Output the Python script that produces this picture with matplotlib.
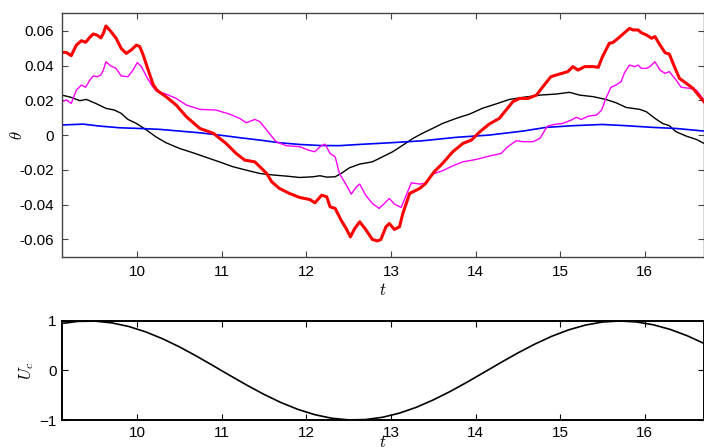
import numpy as np
import matplotlib
matplotlib.use("Agg")
import matplotlib.pyplot as plt

plt.rcParams['font.family'] = ['Liberation Sans', 'DejaVu Sans']
plt.rcParams['mathtext.fontset'] = 'cm'
plt.rcParams['axes.unicode_minus'] = False

# theta(t) for the four runs
t_red = [9.11, 9.16, 9.22, 9.28, 9.34, 9.39, 9.44, 9.48, 9.53, 9.57, 9.60, 9.63, 9.69, 9.75,
         9.81, 9.87, 9.93, 9.99, 10.03, 10.07, 10.13, 10.19, 10.24, 10.34, 10.46, 10.58,
         10.74, 10.90, 11.05, 11.17, 11.27, 11.39, 11.47, 11.53, 11.59, 11.68, 11.80, 11.92,
         12.04, 12.10, 12.18, 12.24, 12.28, 12.34, 12.41, 12.47, 12.52, 12.57, 12.63, 12.70,
         12.78, 12.84, 12.88, 12.94, 12.98, 13.04, 13.10, 13.14, 13.22, 13.34, 13.41, 13.51,
         13.61, 13.73, 13.85, 13.95, 14.05, 14.16, 14.28, 14.36, 14.44, 14.52, 14.62, 14.72,
         14.79, 14.89, 14.99, 15.09, 15.15, 15.21, 15.29, 15.39, 15.45, 15.50, 15.58, 15.62,
         15.66, 15.70, 15.76, 15.82, 15.86, 15.92, 15.96, 16.02, 16.08, 16.12, 16.18, 16.24,
         16.29, 16.35, 16.41, 16.49, 16.57, 16.65, 16.70]
theta_red = [0.0476, 0.0476, 0.0457, 0.0518, 0.0543, 0.0534, 0.0563, 0.0582, 0.0574, 0.0559,
             0.0586, 0.0628, 0.0595, 0.0557, 0.0499, 0.0470, 0.0490, 0.0518, 0.0509, 0.0461,
             0.0374, 0.0288, 0.0255, 0.0221, 0.0173, 0.0106, 0.0038, 0.0010, -0.0048, -0.0106,
             -0.0144, -0.0154, -0.0192, -0.0221, -0.0269, -0.0307, -0.0336, -0.0359, -0.0371,
             -0.0390, -0.0346, -0.0355, -0.0413, -0.0422, -0.0490, -0.0538, -0.0586, -0.0538,
             -0.0499, -0.0543, -0.0601, -0.0609, -0.0601, -0.0528, -0.0509, -0.0543, -0.0528,
             -0.0451, -0.0336, -0.0307, -0.0278, -0.0211, -0.0163, -0.0096, -0.0048, -0.0029,
             0.0019, 0.0063, 0.0096, 0.0144, 0.0192, 0.0211, 0.0211, 0.0230, 0.0275, 0.0336,
             0.0351, 0.0365, 0.0394, 0.0374, 0.0394, 0.0394, 0.0390, 0.0451, 0.0528, 0.0532,
             0.0547, 0.0563, 0.0589, 0.0614, 0.0605, 0.0605, 0.0589, 0.0576, 0.0557, 0.0567,
             0.0518, 0.0474, 0.0466, 0.0394, 0.0326, 0.0298, 0.0269, 0.0221, 0.0192]

t_mag = [9.11, 9.16, 9.22, 9.28, 9.34, 9.39, 9.44, 9.48, 9.53, 9.57, 9.60, 9.63, 9.69, 9.75,
         9.81, 9.89, 9.95, 10.00, 10.05, 10.11, 10.17, 10.22, 10.34, 10.46, 10.58, 10.74,
         10.93, 11.09, 11.21, 11.29, 11.39, 11.45, 11.53, 11.64, 11.76, 11.92, 12.02, 12.10,
         12.16, 12.22, 12.28, 12.34, 12.39, 12.45, 12.53, 12.59, 12.63, 12.70, 12.78, 12.86,
         12.92, 12.98, 13.04, 13.12, 13.18, 13.24, 13.34, 13.41, 13.49, 13.61, 13.73, 13.85,
         14.01, 14.16, 14.30, 14.38, 14.48, 14.56, 14.68, 14.76, 14.85, 14.95, 15.03, 15.13,
         15.19, 15.25, 15.33, 15.43, 15.49, 15.54, 15.60, 15.66, 15.72, 15.76, 15.82, 15.88,
         15.92, 15.96, 16.02, 16.06, 16.12, 16.18, 16.24, 16.29, 16.37, 16.43, 16.53, 16.61,
         16.70]
theta_mag = [0.0192, 0.0202, 0.0182, 0.0259, 0.0288, 0.0275, 0.0317, 0.0340, 0.0336, 0.0346,
             0.0374, 0.0422, 0.0397, 0.0384, 0.0340, 0.0336, 0.0374, 0.0417, 0.0394, 0.0336,
             0.0288, 0.0255, 0.0236, 0.0211, 0.0173, 0.0148, 0.0144, 0.0121, 0.0096, 0.0071,
             0.0090, 0.0077, 0.0029, -0.0038, -0.0061, -0.0067, -0.0086, -0.0096, -0.0067,
             -0.0052, -0.0106, -0.0125, -0.0221, -0.0269, -0.0340, -0.0298, -0.0282, -0.0346,
             -0.0394, -0.0422, -0.0394, -0.0365, -0.0397, -0.0417, -0.0346, -0.0275, -0.0282,
             -0.0275, -0.0225, -0.0205, -0.0177, -0.0154, -0.0140, -0.0121, -0.0106, -0.0067,
             -0.0033, -0.0038, -0.0038, -0.0019, 0.0052, 0.0063, 0.0067, 0.0086, 0.0102, 0.0090,
             0.0109, 0.0115, 0.0144, 0.0211, 0.0275, 0.0288, 0.0307, 0.0359, 0.0403, 0.0394,
             0.0403, 0.0384, 0.0384, 0.0394, 0.0422, 0.0374, 0.0355, 0.0365, 0.0317, 0.0275,
             0.0269, 0.0259, 0.0202]

t_blk = [9.11, 9.22, 9.32, 9.40, 9.51, 9.63, 9.73, 9.81, 9.89, 9.99, 10.11, 10.22, 10.34,
         10.50, 10.66, 10.82, 10.97, 11.13, 11.29, 11.45, 11.61, 11.76, 11.92, 12.08, 12.16,
         12.24, 12.34, 12.41, 12.51, 12.63, 12.78, 12.90, 13.02, 13.14, 13.26, 13.37, 13.49,
         13.61, 13.77, 13.93, 14.08, 14.24, 14.40, 14.56, 14.76, 14.95, 15.11, 15.23, 15.39,
         15.54, 15.66, 15.78, 15.94, 16.02, 16.12, 16.21, 16.29, 16.37, 16.49, 16.61, 16.70]
theta_blk = [0.0230, 0.0217, 0.0198, 0.0205, 0.0182, 0.0154, 0.0144, 0.0125, 0.0090, 0.0067,
             0.0029, -0.0010, -0.0044, -0.0077, -0.0102, -0.0129, -0.0154, -0.0182, -0.0202,
             -0.0221, -0.0230, -0.0236, -0.0244, -0.0240, -0.0234, -0.0242, -0.0240, -0.0221,
             -0.0188, -0.0167, -0.0154, -0.0125, -0.0096, -0.0058, -0.0019, 0.0010, 0.0038,
             0.0067, 0.0096, 0.0121, 0.0154, 0.0179, 0.0205, 0.0217, 0.0230, 0.0236, 0.0246,
             0.0230, 0.0221, 0.0205, 0.0186, 0.0159, 0.0148, 0.0134, 0.0096, 0.0067, 0.0054,
             0.0019, -0.0006, -0.0025, -0.0048]

t_blu = [9.11, 9.36, 9.55, 9.79, 10.03, 10.26, 10.50, 10.74, 10.97, 11.21, 11.45, 11.68,
         11.92, 12.16, 12.39, 12.62, 13.00, 13.37, 13.77, 14.16, 14.56, 14.83, 15.15, 15.50,
         15.78, 16.10, 16.37, 16.70]
theta_blu = [0.0058, 0.0063, 0.0052, 0.0042, 0.0038, 0.0033, 0.0023, 0.0013, 0.0000, -0.0015,
             -0.0029, -0.0044, -0.0054, -0.0060, -0.0061, -0.0054, -0.0044, -0.0033, -0.0013,
             0.0000, 0.0023, 0.0044, 0.0054, 0.0061, 0.0054, 0.0044, 0.0038, 0.0023]

# control signal
t_u = [9.1, 9.3, 9.5, 9.7, 9.9, 10.1, 10.3, 10.5, 10.7, 10.9, 11.1, 11.3, 11.5, 11.7, 11.9,
       12.1, 12.3, 12.5, 12.7, 12.9, 13.1, 13.3, 13.5, 13.7, 13.9, 14.1, 14.3, 14.5, 14.7,
       14.9, 15.1, 15.3, 15.5, 15.7, 15.9, 16.1, 16.3, 16.5, 16.7]
u_c = [0.948, 0.992, 0.997, 0.962, 0.889, 0.780, 0.641, 0.476, 0.291, 0.095, -0.105, -0.300,
       -0.484, -0.648, -0.786, -0.893, -0.965, -0.998, -0.991, -0.945, -0.861, -0.743, -0.594,
       -0.423, -0.235, -0.037, 0.162, 0.355, 0.533, 0.691, 0.821, 0.918, 0.979, 1.000, 0.981,
       0.924, 0.830, 0.703, 0.547]

x_ticks = [10, 11, 12, 13, 14, 15, 16]
theta_ticks = [0.06, 0.04, 0.02, 0, -0.02, -0.04, -0.06]
theta_labels = ['0.06', '0.04', '0.02', '0', '-0.02', '-0.04', '-0.06']
u_ticks = [-1, 0, 1]
u_labels = ['\u22121', '0', '1']

fig = plt.figure(figsize=(7.04, 4.48), dpi=100)
ax1 = fig.add_axes([0.088, 0.427, 0.912, 0.543])
ax2 = fig.add_axes([0.088, 0.0625, 0.912, 0.221])

ax1.plot(t_blk, theta_blk, color='black', lw=1.0)
ax1.plot(t_blu, theta_blu, color='blue', lw=1.2)
ax1.plot(t_mag, theta_mag, color='magenta', lw=1.0)
ax1.plot(t_red, theta_red, color='red', lw=2.2)
ax1.set_xlim(9.11, 16.70)
ax1.set_ylim(-0.07, 0.07)
ax1.set_xticks(x_ticks)
ax1.set_yticks(theta_ticks)
ax1.set_yticklabels(theta_labels)
ax1.tick_params(direction='in', top=True, right=True, length=4, width=0.8,
                labelsize=11, color='#444444', pad=6)
for s in ax1.spines.values():
    s.set_color('#444444')
    s.set_linewidth(1.0)
ax1.set_xlabel('$t$', fontsize=12, labelpad=2)
ax1.set_ylabel(r'$\theta$', fontsize=12, labelpad=-4)

ax2.plot(t_u, u_c, color='black', lw=1.2)
ax2.set_xlim(9.11, 16.70)
ax2.set_ylim(-1, 1)
ax2.set_xticks(x_ticks)
ax2.set_yticks(u_ticks)
ax2.set_yticklabels(u_labels)
ax2.tick_params(direction='in', top=True, right=True, length=4, width=0.8,
                labelsize=11, pad=4)
for s in ax2.spines.values():
    s.set_color('black')
    s.set_linewidth(1.4)
ax2.set_xlabel('$t$', fontsize=12, labelpad=-4)
ax2.set_ylabel('$U_c$', fontsize=12, labelpad=2)

fig.savefig('out.png', dpi=100)
